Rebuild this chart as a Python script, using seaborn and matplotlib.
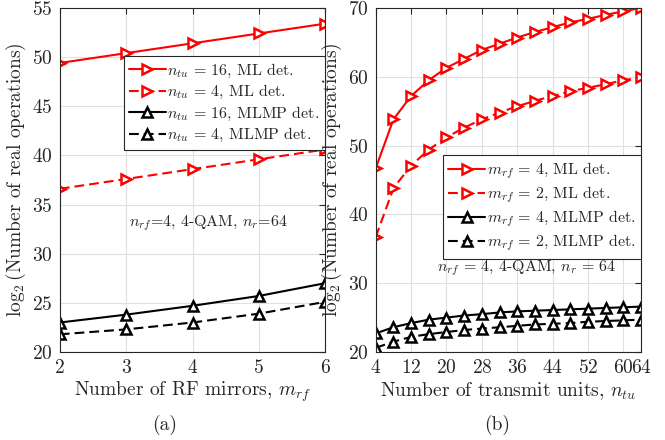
import numpy as np
import pandas as pd
import matplotlib
matplotlib.use("Agg")
import matplotlib.pyplot as plt
import seaborn as sns

# ---- data (a) ----
m_rf = [2, 3, 4, 5, 6]
ml_nt16 = [49.4, 50.4, 51.4, 52.4, 53.4]
ml_nt4 = [36.6, 37.6, 38.6, 39.6, 40.6]
mlmp_nt16 = [23.0, 23.8, 24.7, 25.7, 27.0]
mlmp_nt4 = [21.8, 22.3, 23.0, 23.9, 25.1]

# ---- data (b) ----
n_tu = [4, 8, 12, 16, 20, 24, 28, 32, 36, 40, 44, 48, 52, 56, 60, 64]
ml_m4 = [46.7, 53.8, 57.2, 59.5, 61.3, 62.6, 63.9, 64.8, 65.7, 66.5, 67.2, 67.9, 68.4, 69.0, 69.5, 70.0]
ml_m2 = [36.7, 43.8, 47.1, 49.4, 51.2, 52.6, 53.8, 54.8, 55.7, 56.5, 57.2, 57.9, 58.4, 58.9, 59.5, 59.9]
mlmp_m4 = [22.7, 23.6, 24.2, 24.7, 25.0, 25.3, 25.5, 25.75, 25.9, 26.0, 26.1, 26.2, 26.3, 26.4, 26.5, 26.6]
mlmp_m2 = [20.6, 21.5, 22.2, 22.6, 22.9, 23.2, 23.4, 23.6, 23.8, 24.0, 24.1, 24.2, 24.4, 24.5, 24.6, 24.7]

xticks_a = [2, 3, 4, 5, 6]
yticks_a = [20, 25, 30, 35, 40, 45, 50, 55]
xticks_b = [4, 12, 20, 28, 36, 44, 52, 60, 64]
yticks_b = [20, 30, 40, 50, 60, 70]

sns.set_style("whitegrid")
plt.rcParams['font.family'] = ['cmr10', 'DejaVu Serif']
plt.rcParams['mathtext.fontset'] = 'cm'
plt.rcParams['axes.formatter.use_mathtext'] = True

fig = plt.figure(figsize=(6.65, 4.4), dpi=100)
ax1 = fig.add_axes([0.090, 0.200, 0.399, 0.782])
ax2 = fig.add_axes([0.565, 0.200, 0.399, 0.782])

RED = '#ff0000'
DASH = (0, (4.7, 2.4))

def draw(ax, x, series, labels):
    styles = [
        dict(color=RED, linestyle='-', marker='>'),
        dict(color=RED, linestyle=DASH, marker='>'),
        dict(color='black', linestyle='-', marker='^'),
        dict(color='black', linestyle=DASH, marker='^'),
    ]
    for y, lab, st in zip(series, labels, styles):
        df = pd.DataFrame({'x': x, 'y': y})
        sns.lineplot(data=df, x='x', y='y', ax=ax, label=lab,
                     color=st['color'], linestyle=st['linestyle'],
                     marker=st['marker'], markersize=6.5,
                     markerfacecolor='white', markeredgecolor=st['color'],
                     markeredgewidth=1.8, linewidth=1.5)

def style(ax, xt, yt, xlim, ylim):
    ax.set_xlim(*xlim)
    ax.set_ylim(*ylim)
    ax.set_xticks(xt)
    ax.set_yticks(yt)
    ax.grid(True, color='#e0e0e0', linewidth=0.8)
    for s in ax.spines.values():
        s.set_color('#262626')
        s.set_linewidth(0.8)
        s.set_visible(True)
    ax.tick_params(direction='in', top=True, right=True, length=4,
                   labelsize=14, colors='#262626', pad=5)
    ax.set_facecolor('white')

draw(ax1, m_rf, [ml_nt16, ml_nt4, mlmp_nt16, mlmp_nt4],
     [r'$n_{tu}\,=\,16$, ML det.', r'$n_{tu}\,=\,4$, ML det.',
      r'$n_{tu}\,=\,16$, MLMP det.', r'$n_{tu}\,=\,4$, MLMP det.'])
draw(ax2, n_tu, [ml_m4, ml_m2, mlmp_m4, mlmp_m2],
     [r'$m_{rf}\,=\,4$, ML det.', r'$m_{rf}\,=\,2$, ML det.',
      r'$m_{rf}\,=\,4$, MLMP det.', r'$m_{rf}\,=\,2$, MLMP det.'])

style(ax1, xticks_a, yticks_a, (2, 6), (20, 55))
style(ax2, xticks_b, yticks_b, (4, 64), (20, 70))

for ax in (ax1, ax2):
    ax.set_ylabel(r'$\log_2$(Number of real operations)', fontsize=14, labelpad=3)
ax1.set_xlabel(r'Number of RF mirrors, $m_{rf}$', fontsize=14, labelpad=2)
ax2.set_xlabel(r'Number of transmit units, $n_{tu}$', fontsize=14, labelpad=2)

leg_kw = dict(fontsize=11.5, frameon=True, fancybox=False, edgecolor='#262626',
              framealpha=1, handlelength=2.3, handletextpad=0.1,
              borderpad=0.35, labelspacing=0.22, borderaxespad=0)
l1 = ax1.legend(loc='upper right', bbox_to_anchor=(1.0, 0.86), **leg_kw)
l2 = ax2.legend(loc='upper right', bbox_to_anchor=(1.0, 0.573), **leg_kw)
for l in (l1, l2):
    l.get_frame().set_linewidth(0.8)

ax1.text(0.56, 0.375, r'$n_{rf}$=4, 4-QAM, $n_r$=64', transform=ax1.transAxes,
         ha='center', va='center', fontsize=11.5)
ax2.text(0.57, 0.245, r'$n_{rf}\,=\,4$, 4-QAM, $n_r\,=\,64$', transform=ax2.transAxes,
         ha='center', va='center', fontsize=11.5)

fig.text(0.248, 0.035, '(a)', ha='center', va='center', fontsize=14)
fig.text(0.747, 0.035, '(b)', ha='center', va='center', fontsize=14)

fig.savefig('out.png', dpi=100, facecolor='white')
